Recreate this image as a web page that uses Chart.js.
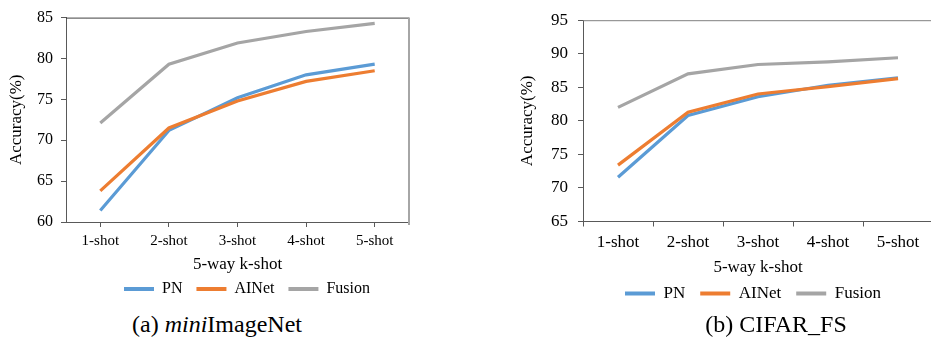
<!DOCTYPE html>
<html>
<head>
<meta charset="utf-8">
<script src="https://cdn.jsdelivr.net/npm/chart.js@4.4.0/dist/chart.umd.min.js"></script>
<style>
  html, body { margin: 0; padding: 0; background: #fff; overflow: hidden; }
  body { width: 931px; height: 343px; position: relative; font-family: "Liberation Serif", "Times New Roman", serif; }
  canvas { position: absolute; top: 0; }
  #leftChart { left: 0; }
  #rightChart { left: 490px; }
  .caption { position: absolute; top: 309px; font-size: 24px; line-height: 30px; color: #000; white-space: nowrap; transform: translateX(-50%); }
</style>
</head>
<body>
<canvas id="leftChart" width="494" height="307"></canvas>
<canvas id="rightChart" width="526" height="312"></canvas>
<div class="caption" style="left:217px">(a) <i>mini</i>ImageNet</div>
<div class="caption" style="left:776px">(b) CIFAR_FS</div>

<script>
// categories
const shots = ["1-shot", "2-shot", "3-shot", "4-shot", "5-shot"];

// miniImageNet accuracy (%)
const miniPN = [61.4, 71.2, 75.2, 78.0, 79.3];
const miniAINet = [63.8, 71.5, 74.8, 77.2, 78.5];
const miniFusion = [72.1, 79.3, 81.9, 83.3, 84.3];
const miniTicks = [60, 65, 70, 75, 80, 85];

// CIFAR_FS accuracy (%)
const cifarPN = [71.6, 80.8, 83.6, 85.3, 86.4];
const cifarAINet = [73.4, 81.3, 84.0, 85.1, 86.3];
const cifarFusion = [82.0, 87.0, 88.4, 88.8, 89.4];
const cifarTicks = [65, 70, 75, 80, 85, 90, 95];

const BLUE = "#5B9BD5", ORANGE = "#ED7D31", GREY = "#A5A5A5";
const AXIS = "#595959";
const FAMILY = "'Liberation Serif', 'Times New Roman', serif";

// top / right frame lines around the plot area
const framePlugin = {
  id: "frame",
  afterDraw(chart, args, opts) {
    const { ctx, chartArea: a } = chart;
    ctx.save();
    ctx.lineWidth = 1;
    ctx.strokeStyle = opts.topColor;
    ctx.beginPath();
    ctx.moveTo(a.left, a.top + 0.5);
    ctx.lineTo(a.right, a.top + 0.5);
    ctx.stroke();
    if (opts.sideColor) {
      ctx.lineWidth = 2;
      ctx.strokeStyle = opts.sideColor;
      ctx.beginPath();
      ctx.moveTo(a.right, a.top);
      ctx.lineTo(a.right, a.bottom + 3);
      ctx.stroke();
    }
    ctx.restore();
  }
};

function buildChart(id, o) {
  new Chart(document.getElementById(id), {
    type: "line",
    data: {
      labels: shots,
      datasets: [
        { label: "PN", data: o.pn, borderColor: BLUE, backgroundColor: BLUE, yAxisID: "y", order: 2 },
        { label: "AINet", data: o.ainet, borderColor: ORANGE, backgroundColor: ORANGE, yAxisID: "y", order: 1 },
        { label: "Fusion", data: o.fusion, borderColor: GREY, backgroundColor: GREY, yAxisID: "y", order: 3 }
      ]
    },
    options: {
      responsive: false,
      animation: false,
      layout: { padding: { top: 12 } },
      elements: {
        line: { borderWidth: 3.2, tension: 0, fill: false },
        point: { radius: 0, hoverRadius: 0 }
      },
      scales: {
        x: {
          type: "category",
          offset: true,
          grid: { display: true, drawOnChartArea: false, offset: o.gridOffset, tickLength: 5, color: AXIS },
          border: { display: true, color: AXIS },
          ticks: { font: { family: FAMILY, size: o.xTickSize }, color: "#000", padding: o.xTickPad, maxRotation: 0, autoSkip: false },
          title: {
            display: true, text: "5-way k-shot", color: "#000",
            font: { family: FAMILY, size: 17 },
            padding: { top: o.xTitleTop, bottom: o.xTitleBottom }
          }
        },
        y: {
          min: o.ticks[0],
          max: o.ticks[o.ticks.length - 1],
          ticks: { stepSize: o.ticks[1] - o.ticks[0], font: { family: FAMILY, size: o.yTickSize }, color: "#000", padding: o.yTickPad },
          grid: { drawOnChartArea: false, tickLength: 5, color: AXIS },
          border: { color: AXIS },
          title: {
            display: true, text: "Accuracy(%)", color: "#000",
            font: { family: FAMILY, size: 17 },
            padding: { top: o.yTitlePad, bottom: 0 }
          },
          afterFit: s => { s.width = o.yWidth; }
        },
        spacer: {
          type: "linear", position: "right", display: true,
          ticks: { display: false }, grid: { display: false }, border: { display: false },
          afterFit: s => { s.width = o.rightGap; }
        }
      },
      plugins: {
        legend: {
          position: "bottom",
          labels: {
            boxWidth: 30, boxHeight: 4, padding: o.legendPad,
            font: { family: FAMILY, size: o.legendSize }, color: "#000",
            generateLabels: chart => chart.data.datasets.map((d, i) => ({
              text: d.label, fillStyle: d.borderColor, strokeStyle: d.borderColor,
              fontColor: "#000", lineWidth: 0, hidden: false, datasetIndex: i
            }))
          }
        },
        tooltip: { enabled: false },
        frame: { topColor: o.topColor, sideColor: o.sideColor }
      }
    },
    plugins: [framePlugin]
  });
}

buildChart("leftChart", {
  pn: miniPN, ainet: miniAINet, fusion: miniFusion, ticks: miniTicks,
  gridOffset: false, xTickSize: 15, yTickSize: 16, legendSize: 16,
  xTickPad: 5.5, xTitleTop: -1.2, xTitleBottom: -8.2, yTickPad: 8, yTitlePad: 6.5,
  yWidth: 66, rightGap: 85, legendPad: 14,
  topColor: "#404040", sideColor: "#A6A6A6"
});

buildChart("rightChart", {
  pn: cifarPN, ainet: cifarAINet, fusion: cifarFusion, ticks: cifarTicks,
  gridOffset: true, xTickSize: 17, yTickSize: 17, legendSize: 17,
  xTickPad: 5.8, xTitleTop: -1.2, xTitleBottom: -7.7, yTickPad: 10, yTitlePad: 27,
  yWidth: 93, rightGap: 83, legendPad: 15,
  topColor: "#808080", sideColor: null
});
</script>
</body>
</html>
